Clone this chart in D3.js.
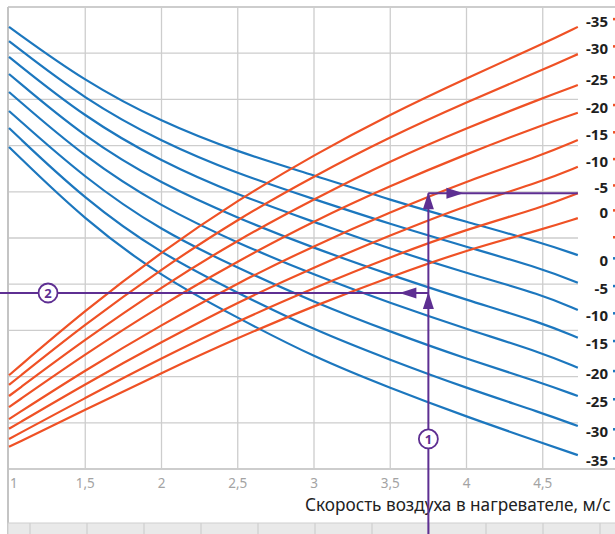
<html>
<head>
  <meta charset="utf-8">
  <style>
    body { margin: 0; background: #fff; overflow: hidden; }
    svg { display: block; font-family: 'Noto Sans', 'Open Sans', sans-serif; }
    .grid line { stroke: #cdcdcd; stroke-width: 1.3; }
    .tick-label { fill: #a3a3a3; font-size: 13.5px; }
    .end-label { fill: #1e1e1e; font-size: 15px; font-weight: bold; }
  </style>
  <script src="https://d3js.org/d3.v7.min.js"></script>
</head>
<body>
  <div id="chart"></div>
  <script>
    // air speed in heater, m/s (curves end a bit before 5)
    const speed = [1, 1.5, 2, 2.5, 3, 3.5, 4, 4.5, 4.73];
    const xTicks = [1, 1.5, 2, 2.5, 3, 3.5, 4, 4.5, 5];

    // red-orange family, top to bottom
    const orangeLabels = ["-35", "-30", "-25", "-20", "-15", "-10", "-5", "0"];
    const orangeValues = [
      [2.03, 3.44, 4.70, 5.82, 6.80, 7.68, 8.46, 9.20, 9.57],
      [1.82, 3.14, 4.33, 5.41, 6.34, 7.19, 7.94, 8.64, 8.98],
      [1.58, 2.81, 3.94, 4.96, 5.84, 6.67, 7.38, 8.03, 8.31],
      [1.34, 2.49, 3.55, 4.50, 5.37, 6.13, 6.82, 7.45, 7.71],
      [1.08, 2.14, 3.12, 4.03, 4.83, 5.56, 6.23, 6.80, 7.12],
      [0.87, 1.84, 2.75, 3.61, 4.37, 5.06, 5.71, 6.23, 6.54],
      [0.65, 1.54, 2.40, 3.20, 3.92, 4.59, 5.19, 5.67, 5.97],
      [0.48, 1.28, 2.08, 2.84, 3.53, 4.16, 4.74, 5.19, 5.43]
    ];

    // blue family, top to bottom
    const blueLabels = ["0", "-5", "-10", "-15", "-20", "-25", "-30", "-35"];
    const blueValues = [
      [9.57, 8.38, 7.51, 6.86, 6.36, 5.82, 5.35, 4.89, 4.63],
      [9.26, 7.99, 7.08, 6.39, 5.84, 5.30, 4.81, 4.33, 4.03],
      [8.92, 7.60, 6.65, 5.93, 5.35, 4.76, 4.24, 3.77, 3.44],
      [8.55, 7.16, 6.17, 5.43, 4.78, 4.20, 3.66, 3.16, 2.84],
      [8.16, 6.73, 5.67, 4.89, 4.20, 3.59, 3.03, 2.51, 2.19],
      [7.75, 6.28, 5.15, 4.35, 3.61, 2.97, 2.38, 1.86, 1.58],
      [7.38, 5.82, 4.65, 3.81, 3.01, 2.36, 1.75, 1.21, 0.93],
      [6.97, 5.37, 4.16, 3.27, 2.42, 1.75, 1.13, 0.56, 0.30]
    ];

    // worked example (purple guide)
    const guideSpeed = 3.75;
    const guideLow = 3.81;   // line (2)
    const guideHigh = 5.97;
    const guideEnd = 4.73;

    const W = 615, H = 534;
    const svg = d3.select("#chart").append("svg").attr("width", W).attr("height", H);

    const x = d3.scaleLinear().domain([1, 5]).range([9, 619]);
    const y = d3.scaleLinear().domain([0, 10]).range([469, 7]);
    const right = 578;

    // horizontal grid
    svg.append("g").attr("class", "grid")
      .selectAll("line").data(d3.range(1, 10)).enter().append("line")
      .attr("x1", 8).attr("x2", right).attr("y1", d => y(d)).attr("y2", d => y(d));
    svg.append("g").attr("class", "grid")
      .selectAll("line").data([0, 10]).enter().append("line")
      .attr("x1", 8).attr("x2", W).attr("y1", d => y(d)).attr("y2", d => y(d))
      .style("stroke-width", 2);

    // vertical grid + tick labels
    svg.append("g").attr("class", "grid")
      .selectAll("line").data(xTicks.slice(1)).enter().append("line")
      .attr("x1", d => x(d)).attr("x2", d => x(d)).attr("y1", y(10)).attr("y2", y(0));
    svg.append("line").attr("x1", 8).attr("x2", 8).attr("y1", y(10)).attr("y2", H)
      .attr("stroke", "#c4c4c4").attr("stroke-width", 2);

    svg.append("g").selectAll("text").data(xTicks).enter().append("text")
      .attr("class", "tick-label")
      .attr("x", (d, i) => i === 0 ? x(d) + 1 : x(d))
      .attr("y", 488)
      .attr("text-anchor", (d, i) => i === 0 ? "start" : "middle")
      .text(d => String(d).replace(".", ","));

    svg.append("text").attr("x", 305).attr("y", 511)
      .attr("fill", "#222").style("font-size", "17.2px")
      .text("Скорость воздуха в нагревателе, м/с");

    // bottom band
    svg.append("rect").attr("x", 8).attr("y", 523).attr("width", W).attr("height", 12)
      .attr("fill", "#e9e9e9").attr("stroke", "#d0d0d0");
    svg.append("g").selectAll("line").data([30].concat(d3.range(87, W, 57))).enter().append("line")
      .attr("x1", d => d).attr("x2", d => d).attr("y1", 523).attr("y2", H)
      .attr("stroke", "#cfcfcf").attr("stroke-width", 1.2);

    const line = d3.line().x((d, i) => x(speed[i])).y(d => y(d)).curve(d3.curveBasis);

    svg.append("g").selectAll("path").data(blueValues).enter().append("path")
      .attr("d", line).attr("fill", "none").attr("stroke", "#1c77be").attr("stroke-width", 2.2);
    svg.append("g").selectAll("path").data(orangeValues).enter().append("path")
      .attr("d", line).attr("fill", "none").attr("stroke", "#ef5125").attr("stroke-width", 2.2);

    // end labels
    const ends = orangeValues.map((v, i) => ({ t: orangeLabels[i], yy: y(v[v.length - 1]) - 6, c: "#ef5125" }))
      .concat([{ t: "", yy: 239, c: "#ef5125" }])
      .concat(blueValues.map((v, i) => ({ t: blueLabels[i], yy: y(v[v.length - 1]) + 5, c: "#1c77be" })));
    const lg = svg.append("g");
    lg.selectAll("text").data(ends).enter().append("text")
      .attr("class", "end-label").attr("x", 608).attr("y", d => d.yy)
      .attr("text-anchor", "end").attr("dominant-baseline", "central")
      .text(d => d.t);
    lg.selectAll("rect").data(ends).enter().append("rect")
      .attr("x", 613).attr("y", d => d.yy - 3).attr("width", 3).attr("height", 2.5)
      .attr("fill", d => d.c);

    // purple guide
    const purple = "#5e2f92";
    const gx = x(guideSpeed);
    svg.append("line").attr("x1", gx).attr("x2", gx).attr("y1", H).attr("y2", y(guideHigh))
      .attr("stroke", purple).attr("stroke-width", 2);
    svg.append("line").attr("x1", 0).attr("x2", gx).attr("y1", y(guideLow)).attr("y2", y(guideLow))
      .attr("stroke", purple).attr("stroke-width", 2);
    svg.append("line").attr("x1", gx).attr("x2", x(guideEnd)).attr("y1", y(guideHigh)).attr("y2", y(guideHigh))
      .attr("stroke", purple).attr("stroke-width", 2);

    function arrow(tx, ty, dir) {
      const L = 17, w = 5.5;
      let pts;
      if (dir === "up") pts = [[tx, ty], [tx - w, ty + L], [tx + w, ty + L]];
      if (dir === "right") pts = [[tx, ty], [tx - L, ty - w], [tx - L, ty + w]];
      if (dir === "left") pts = [[tx, ty], [tx + L, ty - w], [tx + L, ty + w]];
      svg.append("polygon").attr("points", pts.map(p => p.join(",")).join(" ")).attr("fill", purple);
    }
    arrow(gx, y(guideLow) - 1, "up");
    arrow(gx, y(guideHigh) - 1, "up");
    arrow(x(3.98), y(guideHigh), "right");
    arrow(x(3.56), y(guideLow), "left");

    function badge(cx, cy, t) {
      svg.append("circle").attr("cx", cx).attr("cy", cy).attr("r", 9.5)
        .attr("fill", "#fff").attr("stroke", purple).attr("stroke-width", 1.8);
      svg.append("text").attr("x", cx).attr("y", cy + 0.5).attr("text-anchor", "middle")
        .attr("dominant-baseline", "central").attr("fill", purple)
        .style("font-size", "13px").style("font-weight", "bold").text(t);
    }
    badge(gx, y(0.65), "1");
    badge(x(1.256), y(guideLow), "2");
  </script>
</body>
</html>
